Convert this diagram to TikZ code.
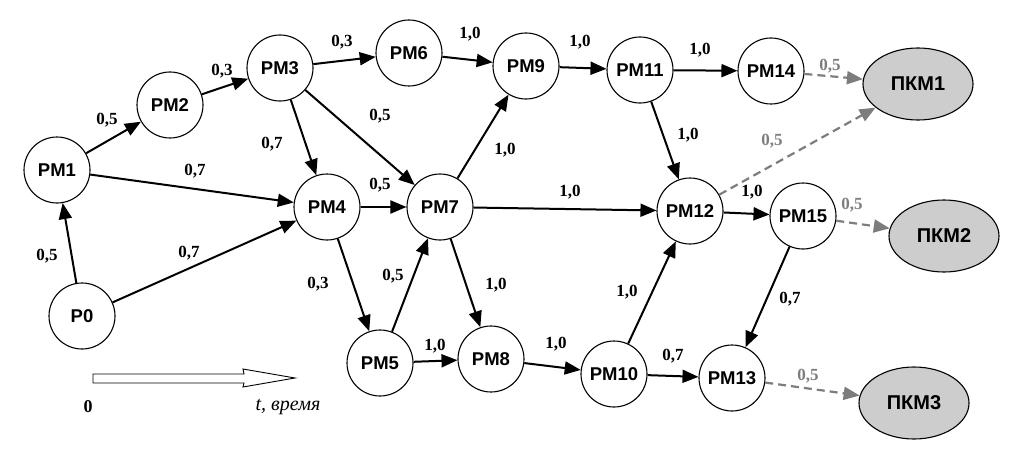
\documentclass[tikz,border=0pt]{standalone}
\usepackage{fontspec}
\setmainfont{Liberation Serif}
\newfontfamily\nodefont{Liberation Sans}
\usetikzlibrary{arrows.meta,shapes.geometric}
\definecolor{ellfill}{RGB}{205,205,205}
\definecolor{dgray}{RGB}{125,125,125}
\tikzset{
  rm/.style={circle,draw,line width=1.1pt,minimum size=66pt,inner sep=0pt,font=\nodefont\bfseries\fontsize{18.5}{18.5}\selectfont},
  pkm/.style={ellipse,draw,line width=1.1pt,fill=ellfill,minimum width=110pt,minimum height=72pt,inner sep=0pt,font=\nodefont\bfseries\fontsize{20}{20}\selectfont},
  con/.style={line width=2pt,-{Triangle[length=16pt,width=13pt]}},
  dcon/.style={line width=2.2pt,dgray,dash pattern=on 8pt off 5pt,-{Triangle[length=16pt,width=13pt]}},
  lbl/.style={font=\bfseries\fontsize{17}{17}\selectfont},
  glbl/.style={font=\bfseries\fontsize{17}{17}\selectfont,text=dgray}
}
\begin{document}
\begin{tikzpicture}[x=1pt,y=-1pt]
\useasboundingbox (0,0) rectangle (1012,452);
\node[rm] (P0) at (82,316) {P0};
\node[rm] (PM1) at (57,170) {PM1};
\node[rm] (PM2) at (170,105) {PM2};
\node[rm] (PM3) at (280,68) {PM3};
\node[rm] (PM4) at (327,207) {PM4};
\node[rm] (PM5) at (380,363) {PM5};
\node[rm] (PM6) at (409,53) {PM6};
\node[rm] (PM7) at (440,207) {PM7};
\node[rm] (PM8) at (491,359) {PM8};
\node[rm] (PM9) at (526,66) {PM9};
\node[rm] (PM10) at (614,374) {PM10};
\node[rm] (PM11) at (640,70) {PM11};
\node[rm] (PM12) at (690,211) {PM12};
\node[rm] (PM13) at (732,378) {PM13};
\node[rm] (PM14) at (771,71) {PM14};
\node[rm] (PM15) at (803,216) {PM15};
\node[pkm] (K1) at (918,84) {ПКМ1};
\node[pkm] (K2) at (944,236) {ПКМ2};
\node[pkm] (K3) at (914,403) {ПКМ3};

\draw[con] (P0) -- (PM1);
\draw[con] (P0) -- (PM4);
\draw[con] (PM1) -- (PM2);
\draw[con] (PM1) -- (PM4);
\draw[con] (PM2) -- (PM3);
\draw[con] (PM3) -- (PM6);
\draw[con] (PM3) -- (PM4);
\draw[con] (PM3) -- (PM7);
\draw[con] (PM4) -- (PM7);
\draw[con] (PM4) -- (PM5);
\draw[con] (PM5) -- (PM7);
\draw[con] (PM5) -- (PM8);
\draw[con] (PM6) -- (PM9);
\draw[con] (PM7) -- (PM9);
\draw[con] (PM7) -- (PM12);
\draw[con] (PM7) -- (PM8);
\draw[con] (PM8) -- (PM10);
\draw[con] (PM9) -- (PM11);
\draw[con] (PM10) -- (PM12);
\draw[con] (PM10) -- (PM13);
\draw[con] (PM11) -- (PM14);
\draw[con] (PM11) -- (PM12);
\draw[con] (PM12) -- (PM15);
\draw[con] (PM15) -- (PM13);
\draw[dcon] (PM14) -- (K1);
\draw[dcon] (PM12) -- (K1);
\draw[dcon] (PM15) -- (K2);
\draw[dcon] (PM13) -- (K3);

\node[lbl] (l1) at (47,256) {0,5};
\node[lbl] (l2) at (107,120) {0,5};
\node[lbl] (l3) at (195,171) {0,7};
\node[lbl] (l4) at (189,253) {0,7};
\node[lbl] (l5) at (222,71) {0,3};
\node[lbl] (l6) at (342,42) {0,3};
\node[lbl] (l7) at (272,144) {0,7};
\node[lbl] (l8) at (380,116) {0,5};
\node[lbl] (l9) at (380,185) {0,5};
\node[lbl] (l10) at (470,34) {1,0};
\node[lbl] (l11) at (580,42) {1,0};
\node[lbl] (l12) at (505,150) {1,0};
\node[lbl] (l13) at (570,192) {1,0};
\node[lbl] (l14) at (700,50) {1,0};
\node[lbl] (l15) at (688,135) {1,0};
\node[lbl] (l16) at (752,192) {1,0};
\node[lbl] (l17) at (790,299) {0,7};
\node[lbl] (l18) at (318,284) {0,3};
\node[lbl] (l19) at (393,276) {0,5};
\node[lbl] (l20) at (496,285) {1,0};
\node[lbl] (l21) at (435,346) {1,0};
\node[lbl] (l22) at (556,344) {1,0};
\node[lbl] (l23) at (627,292) {1,0};
\node[lbl] (l24) at (673,356) {0,7};
\node[glbl] (g1) at (830,66) {0,5};
\node[glbl] (g2) at (772,141) {0,5};
\node[glbl] (g3) at (852,205) {0,5};
\node[glbl] (g4) at (808,376) {0,5};

\draw[line width=0.9pt,fill=white] (93,374) -- (244,374) -- (243,369) -- (295,378) -- (243,387) -- (244,383) -- (93,383) -- cycle;
\node[font=\bfseries\fontsize{18}{18}\selectfont] (zero) at (88,407) {0};
\node[font=\itshape\fontsize{20}{20}\selectfont] (tlabel) at (288,407) {t, время};
\end{tikzpicture}
\end{document}
